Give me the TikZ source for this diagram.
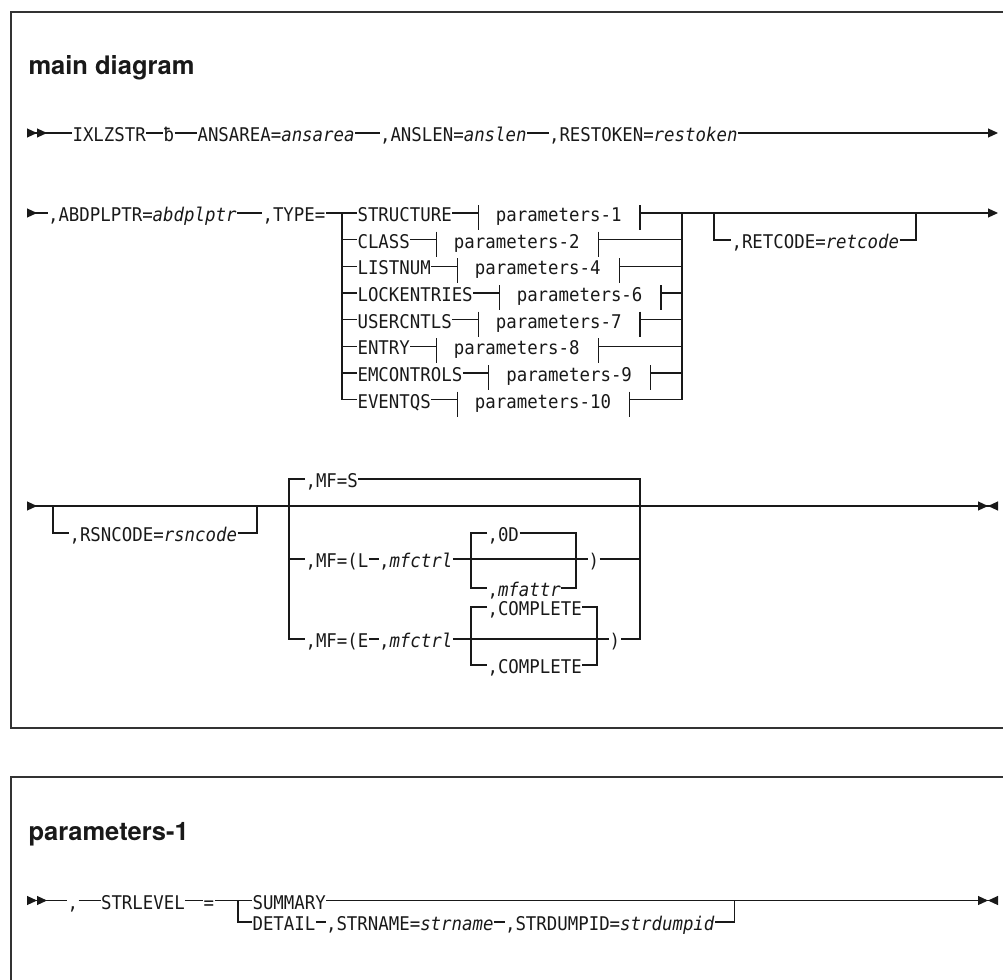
\documentclass[tikz,border=0pt]{standalone}
\usepackage{fontspec}
\newfontfamily\synfont{DejaVu Sans Mono}[ItalicFont={DejaVu Sans Mono Oblique},FakeStretch=0.92]
\newfontfamily\headfont{TeX Gyre Heros}
\usetikzlibrary{arrows.meta,positioning}

\begin{document}
\begin{tikzpicture}[
    x=1pt, y=-1pt, line width=1.1pt, color=black!90,
    syn/.style={inner sep=0pt, anchor=west, text height=17pt, text depth=0pt,
      font=\synfont\fontsize{18.9}{22}\selectfont},
    head/.style={inner sep=0pt, anchor=base west,
      font=\headfont\bfseries\fontsize{25.5}{30}\selectfont},
    frame/.style={line width=1.4pt, draw=black!80},
    trf/.tip={Triangle[length=10pt,width=9pt,sep=0pt]},
    trb/.tip={Triangle[reversed,length=10pt,width=9pt,sep=0pt]},
    dstart/.style={arrows={trb[]trb[]}-},
    sstart/.style={arrows={trb[]}-},
    goon/.style={arrows=-{trf[]}},
    stop/.style={arrows=-{trf[]trb[]}}
  ]
    \path[use as bounding box, clip] (0,0) rectangle (1003,979);
    \draw[frame] (11,12) rectangle (1020,728);
    \draw[frame] (11,777) rectangle (1020,1000);

    % main diagram
    \node[head] (ttl1) at (28,75) {main diagram};

    \coordinate (r1s) at (27,133);
    \node[syn] (ixl) at (72,133) {IXLZSTR};
    \node[syn] (blk) at (163,133) {ƀ};
    \node[syn] (ansa) at (197,133) {ANSAREA=\textit{ansarea}};
    \node[syn] (ansl) at (379.5,133) {,ANSLEN=\textit{anslen}};
    \node[syn] (rest) at (548.5,133) {,RESTOKEN=\textit{restoken}};
    \coordinate (r1e) at (998,133);
    \draw[dstart] (r1s) -- (ixl.west);
    \draw (ixl.east) -- (blk.west);
    \draw (blk.east) -- (ansa.west);
    \draw (ansa.east) -- (ansl.west);
    \draw (ansl.east) -- (rest.west);
    \draw[goon] (rest.east) -- (r1e);

    \coordinate (r2s) at (27,213);
    \node[syn] (abd) at (47.5,213) {,ABDPLPTR=\textit{abdplptr}};
    \node[syn] (type) at (262,213) {,TYPE=};
    \coordinate (fork) at (342,213);
    \coordinate (join) at (682,213);
    \draw[sstart] (r2s) -- (abd.west);
    \draw (abd.east) -- (type.west);
    \foreach \i/\nm/\pr in {0/STRUCTURE/1,1/CLASS/2,2/LISTNUM/4,3/LOCKENTRIES/6,
                            4/USERCNTLS/7,5/ENTRY/8,6/EMCONTROLS/9,7/EVENTQS/10} {
      \node[syn] (opt\i) at (357,213+26.67*\i) {\nm};
      \node[syn, right=43pt of opt\i] (par\i) {parameters-\pr};
      \draw (fork) |- (opt\i.west);
      \draw (opt\i.east) -- ([xshift=-17pt]par\i.west);
      \draw ([shift={(-17pt,8pt)}]par\i.west) -- ++(0,25);
      \draw ([shift={(18pt,8pt)}]par\i.east) -- ++(0,25);
      \draw ([xshift=18pt]par\i.east) -| (join);
    }
    \draw (type.east) -- (opt0.west);

    \coordinate (retl) at (714,213);
    \coordinate (retr) at (916,213);
    \coordinate (r2e) at (998,213);
    \node[syn] (ret) at (731,240) {,RETCODE=\textit{retcode}};
    \draw (retl) |- (ret.west);
    \draw (ret.east) -| (retr);
    \draw[goon] (join) -- (r2e);

    \coordinate (r3s) at (27,506);
    \coordinate (rsnl) at (53,506);
    \coordinate (rsnr) at (257,506);
    \coordinate (mfl) at (289,506);
    \coordinate (mfr) at (640,506);
    \coordinate (r3e) at (998,506);
    \node[syn] (rsn) at (69,533) {,RSNCODE=\textit{rsncode}};
    \draw[sstart] (r3s) -- (mfl);
    \draw (rsnl) |- (rsn.west);
    \draw (rsn.east) -| (rsnr);

    \node[syn] (mfs) at (305,479) {,MF=S};
    \node[syn] (mfL) at (305,559) {,MF=(L};
    \node[syn] (ctlL) at (378.5,559) {,\textit{mfctrl}};
    \node[syn] (od) at (487,533) {,0D};
    \node[syn] (attr) at (487,588) {,\textit{mfattr}};
    \node[syn] (clL) at (588,559) {)};
    \node[syn] (mfE) at (305,639) {,MF=(E};
    \node[syn] (ctlE) at (378.5,639) {,\textit{mfctrl}};
    \node[syn] (cp1) at (487,607) {,COMPLETE};
    \node[syn] (cp2) at (487,665) {,COMPLETE};
    \node[syn] (clE) at (609,639) {)};
    \coordinate (forkL) at (471,559);
    \coordinate (joinL) at (576,559);
    \coordinate (forkE) at (471,639);
    \coordinate (joinE) at (597,639);

    \draw (mfl) -- (mfr);
    \draw (mfs.west) -| (mfl) |- (mfE.west);
    \draw (mfl |- mfL) -- (mfL.west);
    \draw (mfs.east) -| (mfr) |- (clE.east);
    \draw (clL.east) -- (clL.east -| mfr);
    \draw[stop] (mfr) -- (r3e);

    \draw (mfL.east) -- (ctlL.west);
    \draw (ctlL.east) -- (clL.west);
    \draw (od.west) -| (forkL) |- (attr.west);
    \draw (od.east) -| (joinL) |- (attr.east);

    \draw (mfE.east) -- (ctlE.west);
    \draw (ctlE.east) -- (clE.west);
    \draw (cp1.west) -| (forkE) |- (cp2.west);
    \draw (cp1.east) -| (joinE) |- (cp2.east);

    % parameters-1
    \node[head] (ttl2) at (28,840) {parameters-1};

    \coordinate (r4s) at (27,900.5);
    \node[syn] (com) at (67,900.5) {,};
    \node[syn] (lvl) at (100.5,900.5) {STRLEVEL};
    \node[syn] (eq) at (203,900.5) {=};
    \coordinate (lvf) at (238,900.5);
    \node[syn] (sum) at (252,900.5) {SUMMARY};
    \node[syn] (det) at (252,922) {DETAIL};
    \node[syn] (sna) at (325.5,922) {,STRNAME=\textit{strname}};
    \node[syn] (sdp) at (504.5,922) {,STRDUMPID=\textit{strdumpid}};
    \coordinate (lvj) at (734.5,900.5);
    \coordinate (r4e) at (998,900.5);
    \draw[dstart] (r4s) -- (com.west);
    \draw (com.east) -- (lvl.west);
    \draw (lvl.east) -- (eq.west);
    \draw (eq.east) -- (sum.west);
    \draw (lvf) |- (det.west);
    \draw (det.east) -- (sna.west);
    \draw (sna.east) -- (sdp.west);
    \draw (sum.east) -| (lvj) |- (sdp.east);
    \draw[stop] (lvj) -- (r4e);
  \end{tikzpicture}
\end{document}
